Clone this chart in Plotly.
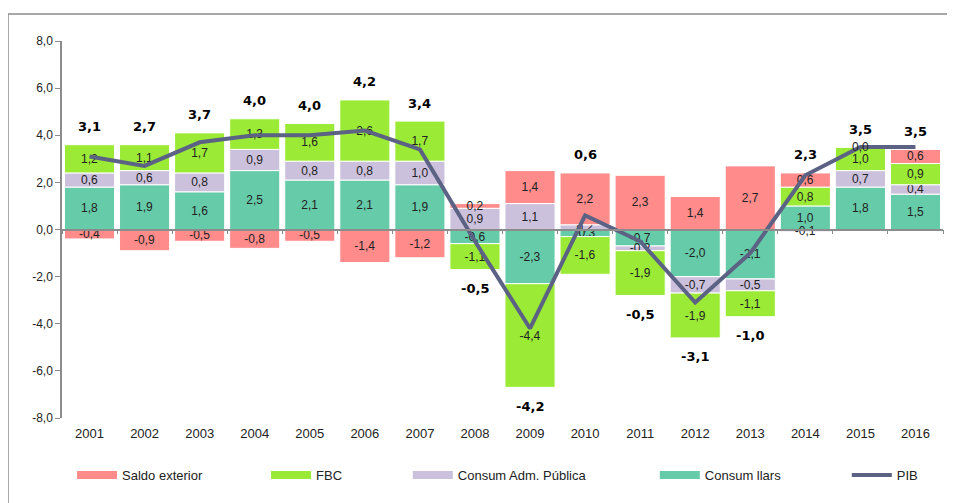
import plotly.graph_objects as go
import numpy as np

# Contribucions al creixement del PIB
years = [str(y) for y in range(2001, 2017)]
saldo_exterior = [-0.4, -0.9, -0.5, -0.8, -0.5, -1.4, -1.2, 0.2, 1.4, 2.2, 2.3, 1.4, 2.7, 0.6, 0.0, 0.6]
fbc = [1.2, 1.1, 1.7, 1.3, 1.6, 2.6, 1.7, -1.1, -4.4, -1.6, -1.9, -1.9, -1.1, 0.8, 1.0, 0.9]
consum_adm = [0.6, 0.6, 0.8, 0.9, 0.8, 0.8, 1.0, 0.9, 1.1, 0.2, -0.2, -0.7, -0.5, -0.1, 0.7, 0.4]
consum_llars = [1.8, 1.9, 1.6, 2.5, 2.1, 2.1, 1.9, -0.6, -2.3, -0.3, -0.7, -2.0, -2.1, 1.0, 1.8, 1.5]
pib = [3.1, 2.7, 3.7, 4.0, 4.0, 4.2, 3.4, -0.5, -4.2, 0.6, -0.5, -3.1, -1.0, 2.3, 3.5, 3.5]
y_ticks = [-8, -6, -4, -2, 0, 2, 4, 6, 8]

def fmt(v):
    return f"{v:.1f}".replace(".", ",")

fig = go.Figure()

comps = np.array([saldo_exterior, fbc, consum_adm, consum_llars])
tops = np.clip(comps, 0, None).sum(axis=0)
bottoms = np.clip(comps, None, 0).sum(axis=0)

annotations = []
label_font = dict(family="Liberation Sans, Arial, sans-serif", size=12, color="#222222")

# stacking order: first trace sits next to zero
series = [
    ("Consum llars", consum_llars, "#66CBA9", "legend4"),
    ("Consum Adm. Pública", consum_adm, "#CCC1DC", "legend3"),
    ("FBC", fbc, "#9BEA36", "legend2"),
    ("Saldo exterior", saldo_exterior, "#FF8B8B", "legend"),
]
for name, vals, color, leg in series:
    fig.add_trace(go.Bar(
        x=years, y=vals, name=name, showlegend=False,
        marker=dict(color=color, line=dict(color="white", width=1)),
        text=[fmt(v) for v in vals], textposition="inside",
        insidetextanchor="middle", constraintext="none",
        textfont=label_font, cliponaxis=False,
    ))
    # wide flat swatch for the legend, like the original
    fig.add_trace(go.Scatter(x=[None], y=[None], name=name, legend=leg, mode="lines",
                             line=dict(color=color, width=8)))
    # zero-height bars get no text from plotly, label them at the stack top
    for i, v in enumerate(vals):
        if v == 0:
            annotations.append(dict(x=i, y=tops[i], text=fmt(v), showarrow=False,
                                    font=label_font))

fig.add_trace(go.Scatter(
    x=years, y=pib, name="PIB", mode="lines", legend="legend5",
    line=dict(color="#5B6283", width=4),
))

# invisible trace that carries the zero-line axis
fig.add_trace(go.Scatter(x=years, y=pib, xaxis="x2", mode="none", showlegend=False,
                         hoverinfo="skip"))

# PIB labels above/below the stack
for i, v in enumerate(pib):
    annotations.append(dict(
        x=i, y=tops[i] if v >= 0 else bottoms[i],
        yshift=18 if v >= 0 else -19, text="<b>" + fmt(v) + "</b>", showarrow=False,
        font=dict(family="DejaVu Sans, Verdana, sans-serif", size=13, color="black"),
    ))

legend_style = dict(orientation="h", xanchor="left", y=-0.151, yanchor="middle",
                    itemwidth=40, font=dict(size=13), bgcolor="rgba(0,0,0,0)")

fig.update_layout(
    width=947, height=495,
    margin=dict(l=54, r=12, t=33, b=85),
    barmode="relative", bargap=0.09,
    paper_bgcolor="white", plot_bgcolor="white",
    font=dict(family="Liberation Sans Narrow, Arial Narrow, Liberation Sans, sans-serif", size=12, color="#222222"),
    xaxis=dict(type="category", showline=False, ticks="", showgrid=False,
               tickfont=dict(size=13), ticklabelstandoff=6),
    xaxis2=dict(type="category", overlaying="x", matches="x", anchor="free", position=0.5,
                showline=True, linecolor="#8C8C8C", linewidth=1.5,
                ticks="outside", tickson="boundaries", ticklen=4, tickcolor="#8C8C8C",
                showticklabels=False, showgrid=False),
    yaxis=dict(range=[-8, 8], tickvals=y_ticks, ticktext=[fmt(t) for t in y_ticks],
               showgrid=False, zeroline=False,
               showline=True, linecolor="#8C8C8C", linewidth=1.5,
               ticks="outside", ticklen=5, tickcolor="#8C8C8C",
               tickfont=dict(family="Liberation Sans, Arial, sans-serif", size=12)),
    legend=dict(x=0.0114, **legend_style),
    legend2=dict(x=0.2316, **legend_style),
    legend3=dict(x=0.3925, **legend_style),
    legend4=dict(x=0.6729, **legend_style),
    legend5=dict(x=0.8908, **legend_style),
    annotations=annotations,
    shapes=[dict(type="rect", xref="paper", yref="paper",
                 x0=-54 / 881, x1=1.2, y0=-0.3, y1=1.0716,
                 line=dict(color="#8C8C8C", width=1.5), layer="below")],
)

fig.write_html("out.html")
